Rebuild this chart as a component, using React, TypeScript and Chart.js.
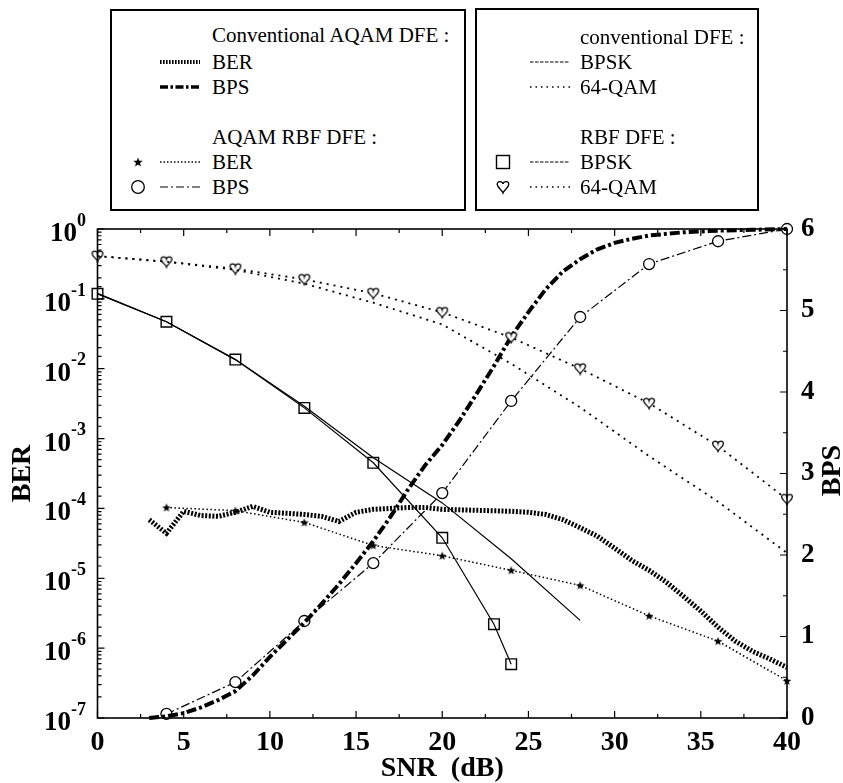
import React, { useEffect, useRef } from "react";
import { Chart, registerables } from "chart.js";

Chart.register(...registerables);

// ---------- data ----------
// Conventional AQAM DFE : BER (thick dotted)
const convAqamBerSnr = [3, 4, 5, 6, 7, 8, 9, 10, 11, 12, 13, 14, 15, 16, 17, 18, 19, 20, 22, 24, 25, 26, 27, 28, 29, 30, 31, 32, 33, 34, 35, 36, 37, 38, 39, 40];
const convAqamBerVal = [6.9e-5, 4.4e-5, 9.1e-5, 7.9e-5, 7.7e-5, 8.8e-5, 1.07e-4, 8.8e-5, 8.5e-5, 8.2e-5, 7.7e-5, 6.5e-5, 8.8e-5, 9.7e-5, 1.0e-4, 1.03e-4, 1.03e-4, 9.7e-5, 9.4e-5, 9.1e-5, 8.8e-5, 8.2e-5, 6.9e-5, 5.3e-5, 4.0e-5, 2.7e-5, 1.8e-5, 1.3e-5, 8.8e-6, 5.5e-6, 3.4e-6, 2.0e-6, 1.26e-6, 9.0e-7, 7.0e-7, 5.3e-7];

// Conventional AQAM DFE : BPS (thick dash-dot)
const convAqamBpsSnr = [3, 4, 5, 6, 7, 8, 9, 10, 11, 12, 13, 14, 15, 16, 17, 18, 19, 20, 21, 22, 23, 24, 25, 26, 27, 28, 29, 30, 31, 32, 34, 36, 38, 40];
const convAqamBpsVal = [0, 0.02, 0.06, 0.13, 0.22, 0.33, 0.52, 0.75, 0.96, 1.17, 1.4, 1.64, 1.9, 2.17, 2.47, 2.8, 3.1, 3.35, 3.65, 3.98, 4.32, 4.68, 4.98, 5.26, 5.48, 5.63, 5.75, 5.83, 5.88, 5.92, 5.96, 5.98, 5.99, 6.0];

// AQAM RBF DFE : BER (stars, dotted)
const rbfAqamBerSnr = [4, 8, 12, 16, 20, 24, 28, 32, 36, 40];
const rbfAqamBerVal = [1.03e-4, 9.3e-5, 6.3e-5, 2.95e-5, 2.1e-5, 1.3e-5, 7.9e-6, 2.9e-6, 1.26e-6, 3.4e-7];

// AQAM RBF DFE : BPS (circles, dash-dot)
const rbfAqamBpsSnr = [3, 4, 8, 12, 16, 20, 24, 28, 32, 36, 40];
const rbfAqamBpsVal = [0, 0.05, 0.44, 1.19, 1.9, 2.76, 3.89, 4.92, 5.57, 5.85, 6.0];

// conventional DFE : BPSK
const convBpskSnr = [0, 4, 8, 12, 16, 20, 24, 28];
const convBpskBer = [0.12, 0.047, 0.0135, 2.9e-3, 5.3e-4, 1.2e-4, 1.9e-5, 2.5e-6];

// conventional DFE : 64-QAM
const conv64Snr = [0, 4, 8, 12, 16, 20, 24, 28, 32, 36, 40];
const conv64Ber = [0.41, 0.34, 0.26, 0.165, 0.088, 0.043, 0.0118, 2.8e-3, 5.6e-4, 1.25e-4, 2.3e-5];

// RBF DFE : BPSK (squares)
const rbfBpskSnr = [0, 4, 8, 12, 16, 20, 23, 24];
const rbfBpskBer = [0.118, 0.047, 0.0135, 2.75e-3, 4.5e-4, 3.8e-5, 2.2e-6, 5.9e-7];

// RBF DFE : 64-QAM (hearts)
const rbf64Snr = [0, 4, 8, 12, 16, 20, 24, 28, 32, 36, 40];
const rbf64Ber = [0.41, 0.34, 0.27, 0.19, 0.12, 0.064, 0.028, 0.01, 3.2e-3, 7.8e-4, 1.35e-4];

// ticks
const berExponents = [0, -1, -2, -3, -4, -5, -6, -7];
const snrLabelStep = 5;
const snrTickStep = 2.5;
const bpsTickStep = 0.5;

const FONT = "'Liberation Serif', 'Times New Roman', serif";

function pts(xs: number[], ys: number[]) {
  return xs.map((x, i) => ({ x, y: ys[i] }));
}

function makeHeart(): HTMLCanvasElement {
  const c = document.createElement("canvas");
  c.width = 14;
  c.height = 14;
  const g = c.getContext("2d")!;
  g.strokeStyle = "#000";
  g.fillStyle = "#fff";
  g.lineWidth = 1.3;
  const cx = 7;
  g.beginPath();
  g.moveTo(cx, 4.2);
  g.bezierCurveTo(cx - 0.5, 1.5, 1.5, 1.2, 1.6, 4.5);
  g.bezierCurveTo(1.7, 7.5, cx - 1, 9.5, cx, 12.3);
  g.bezierCurveTo(cx + 1, 9.5, 12.3, 7.5, 12.4, 4.5);
  g.bezierCurveTo(12.5, 1.2, cx + 0.5, 1.5, cx, 4.2);
  g.closePath();
  g.fill();
  g.stroke();
  return c;
}

function makeStar(): HTMLCanvasElement {
  const c = document.createElement("canvas");
  c.width = 10;
  c.height = 10;
  const g = c.getContext("2d")!;
  g.fillStyle = "#000";
  g.beginPath();
  const R = 4.6, r = 1.9;
  for (let i = 0; i < 10; i++) {
    const a = -Math.PI / 2 + (i * Math.PI) / 5;
    const rad = i % 2 === 0 ? R : r;
    const px = 5 + rad * Math.cos(a);
    const py = 5.3 + rad * Math.sin(a);
    if (i === 0) g.moveTo(px, py);
    else g.lineTo(px, py);
  }
  g.closePath();
  g.fill();
  return c;
}

const framePlugin = {
  id: "frameAndLabels",
  afterDraw(chart: any) {
    const { ctx, chartArea: ca, scales } = chart;
    const x = scales.x, y = scales.y, y2 = scales.y2;
    ctx.save();
    ctx.strokeStyle = "#000";
    ctx.lineWidth = 1.6;
    ctx.strokeRect(ca.left, ca.top, ca.right - ca.left, ca.bottom - ca.top);
    ctx.lineWidth = 1.2;
    ctx.beginPath();
    // x ticks (bottom and top, inward)
    x.ticks.forEach((t: any) => {
      const px = x.getPixelForValue(t.value);
      const major = Math.abs(t.value % snrLabelStep) < 1e-9;
      const len = major ? 7 : 4;
      ctx.moveTo(px, ca.bottom);
      ctx.lineTo(px, ca.bottom - len);
      ctx.moveTo(px, ca.top);
      ctx.lineTo(px, ca.top + len);
    });
    // log ticks on left
    y.ticks.forEach((t: any) => {
      const py = y.getPixelForValue(t.value);
      const lg = Math.log10(t.value);
      const major = Math.abs(lg - Math.round(lg)) < 1e-6;
      const len = major ? 7 : 4;
      ctx.moveTo(ca.left, py);
      ctx.lineTo(ca.left + len, py);
    });
    // right ticks
    y2.ticks.forEach((t: any) => {
      const py = y2.getPixelForValue(t.value);
      const major = Number.isInteger(t.value);
      const len = major ? 7 : 4;
      ctx.moveTo(ca.right, py);
      ctx.lineTo(ca.right - len, py);
    });
    ctx.stroke();

    // left tick labels 10^k
    ctx.fillStyle = "#000";
    ctx.textBaseline = "middle";
    ctx.textAlign = "left";
    berExponents.forEach((e) => {
      const py = y.getPixelForValue(Math.pow(10, e));
      const base = "10";
      const exp = String(e);
      ctx.font = `bold 27px ${FONT}`;
      const bw = ctx.measureText(base).width;
      ctx.font = `bold 18px ${FONT}`;
      const ew = ctx.measureText(exp).width;
      const right = 86;
      const ex = right - ew;
      const bx = ex - bw;
      ctx.font = `bold 27px ${FONT}`;
      ctx.fillText(base, bx, py + 5);
      ctx.font = `bold 18px ${FONT}`;
      ctx.fillText(exp, ex, py - 8);
    });

    // axis titles
    ctx.font = `bold 28px ${FONT}`;
    ctx.textAlign = "center";
    ctx.textBaseline = "middle";
    ctx.fillText("SNR  (dB)", (ca.left + ca.right) / 2 + 0, 769);
    ctx.save();
    ctx.translate(23, (ca.top + ca.bottom) / 2 + 0);
    ctx.rotate(-Math.PI / 2);
    ctx.fillText("BER", 0, 0);
    ctx.restore();
    ctx.save();
    ctx.translate(833, (ca.top + ca.bottom) / 2 - 3);
    ctx.rotate(-Math.PI / 2);
    ctx.fillText("BPS", 0, 0);
    ctx.restore();
    ctx.restore();
  },
};

function LegendLine({ dash, width }: { dash?: string; width: number }) {
  return (
    <svg width="40" height="10" style={{ position: "absolute", left: 0, top: -5 }}>
      <line x1="0" y1="5" x2="40" y2="5" stroke="#000" strokeWidth={width} strokeDasharray={dash} />
    </svg>
  );
}

function Row({ top, sampleLeft, textLeft, text, dash, width, marker, markerLeft }: any) {
  return (
    <>
      {dash !== null && (
        <div style={{ position: "absolute", left: sampleLeft, top }}>
          <LegendLine dash={dash} width={width} />
        </div>
      )}
      {marker && (
        <div style={{ position: "absolute", left: markerLeft - 8, top: top - 8, width: 16, height: 16 }}>
          {marker}
        </div>
      )}
      <div
        style={{
          position: "absolute",
          left: textLeft,
          top: top - 13,
          fontFamily: FONT,
          fontSize: 21,
          lineHeight: "26px",
          whiteSpace: "pre",
          color: "#000",
        }}
      >
        {text}
      </div>
    </>
  );
}

const starSvg = (
  <svg width="16" height="16" viewBox="0 0 16 16">
    <polygon
      points={Array.from({ length: 10 }, (_, i) => {
        const a = -Math.PI / 2 + (i * Math.PI) / 5;
        const r = i % 2 === 0 ? 5 : 2.1;
        return `${8 + r * Math.cos(a)},${8.4 + r * Math.sin(a)}`;
      }).join(" ")}
      fill="#000"
    />
  </svg>
);
const circleSvg = (
  <svg width="16" height="16" viewBox="0 0 16 16">
    <circle cx="8" cy="8" r="6.3" fill="none" stroke="#000" strokeWidth="1.3" />
  </svg>
);
const squareSvg = (
  <svg width="16" height="16" viewBox="0 0 16 16">
    <rect x="1.5" y="1.5" width="13" height="13" fill="none" stroke="#000" strokeWidth="1.4" />
  </svg>
);
const heartSvg = (
  <svg width="16" height="16" viewBox="0 0 16 16">
    <path
      d="M8 5 C7.5 2 2 1.6 2.2 5.4 C2.4 8.6 6.8 10.6 8 14 C9.2 10.6 13.6 8.6 13.8 5.4 C14 1.6 8.5 2 8 5 Z"
      fill="none"
      stroke="#000"
      strokeWidth="1.3"
    />
  </svg>
);

export default function App() {
  const ref = useRef<HTMLCanvasElement | null>(null);

  useEffect(() => {
    const canvas = ref.current!;
    const heart = makeHeart();
    const star = makeStar();
    const chart = new Chart(canvas, {
      type: "line",
      data: {
        datasets: [
          {
            label: "conventional DFE : 64-QAM",
            data: pts(conv64Snr, conv64Ber),
            yAxisID: "y",
            borderColor: "#000",
            borderWidth: 1.8,
            borderDash: [2, 5],
            pointRadius: 0,
            clip: false,
          },
          {
            label: "RBF DFE : 64-QAM",
            data: pts(rbf64Snr, rbf64Ber),
            yAxisID: "y",
            borderColor: "#000",
            borderWidth: 1.8,
            borderDash: [2, 5],
            pointStyle: heart,
            pointRadius: 6,
            clip: false,
          },
          {
            label: "conventional DFE : BPSK",
            data: pts(convBpskSnr, convBpskBer),
            yAxisID: "y",
            borderColor: "#000",
            borderWidth: 1.2,
            pointRadius: 0,
            clip: false,
          },
          {
            label: "RBF DFE : BPSK",
            data: pts(rbfBpskSnr, rbfBpskBer),
            yAxisID: "y",
            borderColor: "#000",
            borderWidth: 1.2,
            pointStyle: "rect",
            pointRadius: 7.5,
            pointBorderWidth: 1.4,
            pointBackgroundColor: "rgba(0,0,0,0)",
            pointBorderColor: "#000",
            clip: false,
          },
          {
            label: "Conventional AQAM DFE : BER",
            data: pts(convAqamBerSnr, convAqamBerVal),
            yAxisID: "y",
            borderColor: "#000",
            borderWidth: 5,
            borderDash: [2, 1.6],
            pointRadius: 0,
            clip: false,
          },
          {
            label: "AQAM RBF DFE : BER",
            data: pts(rbfAqamBerSnr, rbfAqamBerVal),
            yAxisID: "y",
            borderColor: "#000",
            borderWidth: 1.5,
            borderDash: [1.5, 2.5],
            pointStyle: star,
            pointRadius: 5,
            clip: false,
          },
          {
            label: "Conventional AQAM DFE : BPS",
            data: pts(convAqamBpsSnr, convAqamBpsVal),
            yAxisID: "y2",
            borderColor: "#000",
            borderWidth: 4,
            borderDash: [10, 3, 3, 3],
            pointRadius: 0,
            clip: false,
          },
          {
            label: "AQAM RBF DFE : BPS",
            data: pts(rbfAqamBpsSnr, rbfAqamBpsVal),
            yAxisID: "y2",
            borderColor: "#000",
            borderWidth: 1.2,
            borderDash: [9, 3, 2, 3],
            pointStyle: "circle",
            pointRadius: rbfAqamBpsSnr.map((s) => (s === 3 ? 0 : 5.5)),
            pointBorderWidth: 1.3,
            pointBackgroundColor: "#fff",
            pointBorderColor: "#000",
            clip: false,
          },
        ],
      },
      options: {
        animation: false,
        responsive: false,
        maintainAspectRatio: false,
        layout: { padding: { top: 229, left: 0, right: 0, bottom: 0 } },
        plugins: { legend: { display: false }, tooltip: { enabled: false } },
        elements: { line: { tension: 0 } },
        scales: {
          x: {
            type: "linear",
            position: "bottom",
            min: 0,
            max: 40,
            afterFit: (s: any) => {
              s.height = 65;
            },
            grid: { display: false, drawTicks: false },
            border: { display: false },
            ticks: {
              stepSize: snrTickStep,
              autoSkip: false,
              maxRotation: 0,
              padding: 8,
              color: "#000",
              font: { family: FONT, size: 28, weight: "bold" },
              callback: (v: any) => (Math.abs(v % snrLabelStep) < 1e-9 ? String(v) : ""),
            },
          },
          y: {
            type: "logarithmic",
            position: "left",
            min: 1e-7,
            max: 1,
            afterFit: (s: any) => {
              s.width = 97.5;
            },
            grid: { display: false, drawTicks: false },
            border: { display: false },
            ticks: { display: false },
          },
          y2: {
            type: "linear",
            position: "right",
            min: 0,
            max: 6,
            afterFit: (s: any) => {
              s.width = 56;
            },
            grid: { display: false, drawTicks: false },
            border: { display: false },
            ticks: {
              stepSize: bpsTickStep,
              autoSkip: false,
              padding: 14,
              color: "#000",
              font: { family: FONT, size: 27, weight: "bold" },
              callback: (v: any) => (Number.isInteger(v) ? String(v) : ""),
            },
          },
        },
      },
      plugins: [framePlugin],
    } as any);
    return () => chart.destroy();
  }, []);

  const box: React.CSSProperties = {
    position: "absolute",
    border: "2px solid #000",
    boxSizing: "border-box",
    background: "#fff",
  };

  return (
    <div style={{ position: "fixed", left: 0, top: 0, width: 843, height: 783, background: "#fff" }}>
      <canvas ref={ref} width={843} height={783} style={{ position: "absolute", left: 0, top: 0, width: 843, height: 783 }} />
      <div style={{ ...box, left: 110, top: 9, width: 356, height: 202 }} />
      <div style={{ ...box, left: 475, top: 8, width: 284, height: 203 }} />

      <Row top={35} textLeft={212} text="Conventional AQAM DFE :" dash={null} />
      <Row top={62} sampleLeft={160} textLeft={212} text="BER" dash="1.6 1.4" width={4} />
      <Row top={87} sampleLeft={160} textLeft={212} text="BPS" dash="8 2.5 2.5 2.5" width={3.5} />
      <Row top={137} textLeft={212} text="AQAM RBF DFE :" dash={null} />
      <Row top={162} sampleLeft={160} textLeft={212} text="BER" dash="1.5 2" width={1.3} marker={starSvg} markerLeft={138} />
      <Row top={187} sampleLeft={160} textLeft={212} text="BPS" dash="8 3 2 3" width={1.2} marker={circleSvg} markerLeft={138} />

      <Row top={37} textLeft={580} text="conventional DFE :" dash={null} />
      <Row top={62} sampleLeft={530} textLeft={580} text="BPSK" dash="3.5 1.5" width={1.2} />
      <Row top={87} sampleLeft={530} textLeft={580} text="64-QAM" dash="1.5 4" width={1.5} />
      <Row top={137} textLeft={580} text="RBF DFE :" dash={null} />
      <Row top={162} sampleLeft={530} textLeft={580} text="BPSK" dash="3.5 1.5" width={1.2} marker={squareSvg} markerLeft={503} />
      <Row top={187} sampleLeft={530} textLeft={580} text="64-QAM" dash="1.5 4" width={1.5} marker={heartSvg} markerLeft={503} />
    </div>
  );
}
